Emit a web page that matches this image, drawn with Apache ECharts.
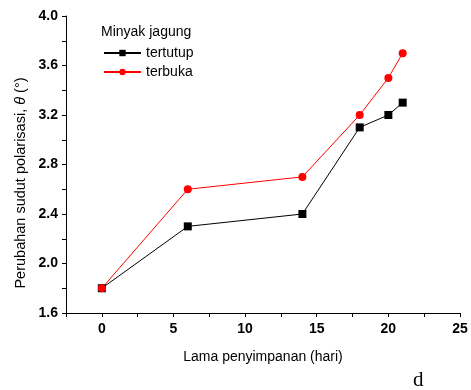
<!DOCTYPE html>
<html>
<head>
<meta charset="utf-8">
<script src="https://cdn.jsdelivr.net/npm/echarts@6/dist/echarts.min.js"></script>
<style>html,body{margin:0;padding:0;background:#fff}#c{width:471px;height:390px}</style>
</head>
<body>
<div id="c"></div>
<script>
var days = [0, 6, 14, 18, 20, 21];
var tertutup = [1.8, 2.3, 2.4, 3.1, 3.2, 3.3];
var terbuka = [1.8, 2.6, 2.7, 3.2, 3.5, 3.7];
var seriesNames = ['tertutup', 'terbuka'];
var legendTitle = 'Minyak jagung';
var xTitle = 'Lama penyimpanan (hari)';
var yTitle = ['Perubahan sudut polarisasi, ', 'θ', ' (°)'];
var panelLabel = 'd';

function pairs(xs, ys) { return xs.map(function (x, i) { return [x, ys[i]]; }); }

var chart = echarts.init(document.getElementById('c'));
var font = 'Liberation Sans, Arial, sans-serif';
chart.setOption({
  animation: false,
  grid: { left: 66, right: 11, top: 16, bottom: 77 },
  title: {
    text: legendTitle, left: 101, top: 25, padding: 0,
    textStyle: { fontFamily: font, fontSize: 14, fontWeight: 'normal', color: '#000' }
  },
  legend: {
    orient: 'vertical', left: 103, top: 45, padding: 0, itemGap: 3,
    itemWidth: 37, itemHeight: 8,
    textStyle: { fontFamily: font, fontSize: 14, color: '#000', lineHeight: 16 },
    data: seriesNames
  },
  xAxis: {
    type: 'value', min: -2.5, max: 25, interval: 2.5,
    name: xTitle, nameLocation: 'middle', nameGap: 37,
    nameTextStyle: { fontFamily: font, fontSize: 14, color: '#000' },
    axisLine: { onZero: false, lineStyle: { color: '#000', width: 1 } },
    axisTick: { show: true, inside: false, length: 4, lineStyle: { color: '#000' } },
    axisLabel: {
      fontFamily: font, fontSize: 14, fontWeight: 'bold', color: '#000', margin: 9,
      formatter: function (v) { return (v % 5 === 0) ? String(v) : ''; }
    },
    splitLine: { show: false }
  },
  yAxis: {
    type: 'value', min: 1.6, max: 4.0, interval: 0.2,
    axisLine: { show: true, onZero: false, lineStyle: { color: '#000', width: 1 } },
    axisTick: { show: true, inside: false, length: 4, lineStyle: { color: '#000' } },
    axisLabel: {
      fontFamily: font, fontSize: 14, fontWeight: 'bold', color: '#000', margin: 8,
      formatter: function (v) {
        var r = Math.round(v * 10);
        return (r % 4 === 0) ? (r / 10).toFixed(1) : '';
      }
    },
    splitLine: { show: false }
  },
  series: [
    {
      name: seriesNames[0], type: 'line', data: pairs(days, tertutup),
      symbol: 'rect', symbolSize: 8,
      lineStyle: { color: '#000', width: 1 },
      itemStyle: { color: '#000' }
    },
    {
      name: seriesNames[1], type: 'line', data: pairs(days, terbuka),
      symbol: 'circle', symbolSize: 8,
      lineStyle: { color: '#ff0000', width: 1 },
      itemStyle: { color: '#ff0000' }
    }
  ],
  graphic: [
    {
      type: 'text', x: 21, y: 183, rotation: Math.PI / 2,
      style: {
        text: '{n|' + yTitle[0] + '}{t|' + yTitle[1] + '}{n|' + yTitle[2] + '}',
        align: 'center', verticalAlign: 'middle',
        rich: {
          n: { fontFamily: font, fontSize: 14.5, fill: '#000' },
          t: { fontFamily: font, fontSize: 14.5, fontStyle: 'italic', fill: '#000' }
        }
      }
    },
    {
      type: 'text', left: 413, top: 370,
      style: { text: panelLabel, font: '21px "Liberation Serif", "Times New Roman", serif', fill: '#000' }
    }
  ]
});
</script>
</body>
</html>
